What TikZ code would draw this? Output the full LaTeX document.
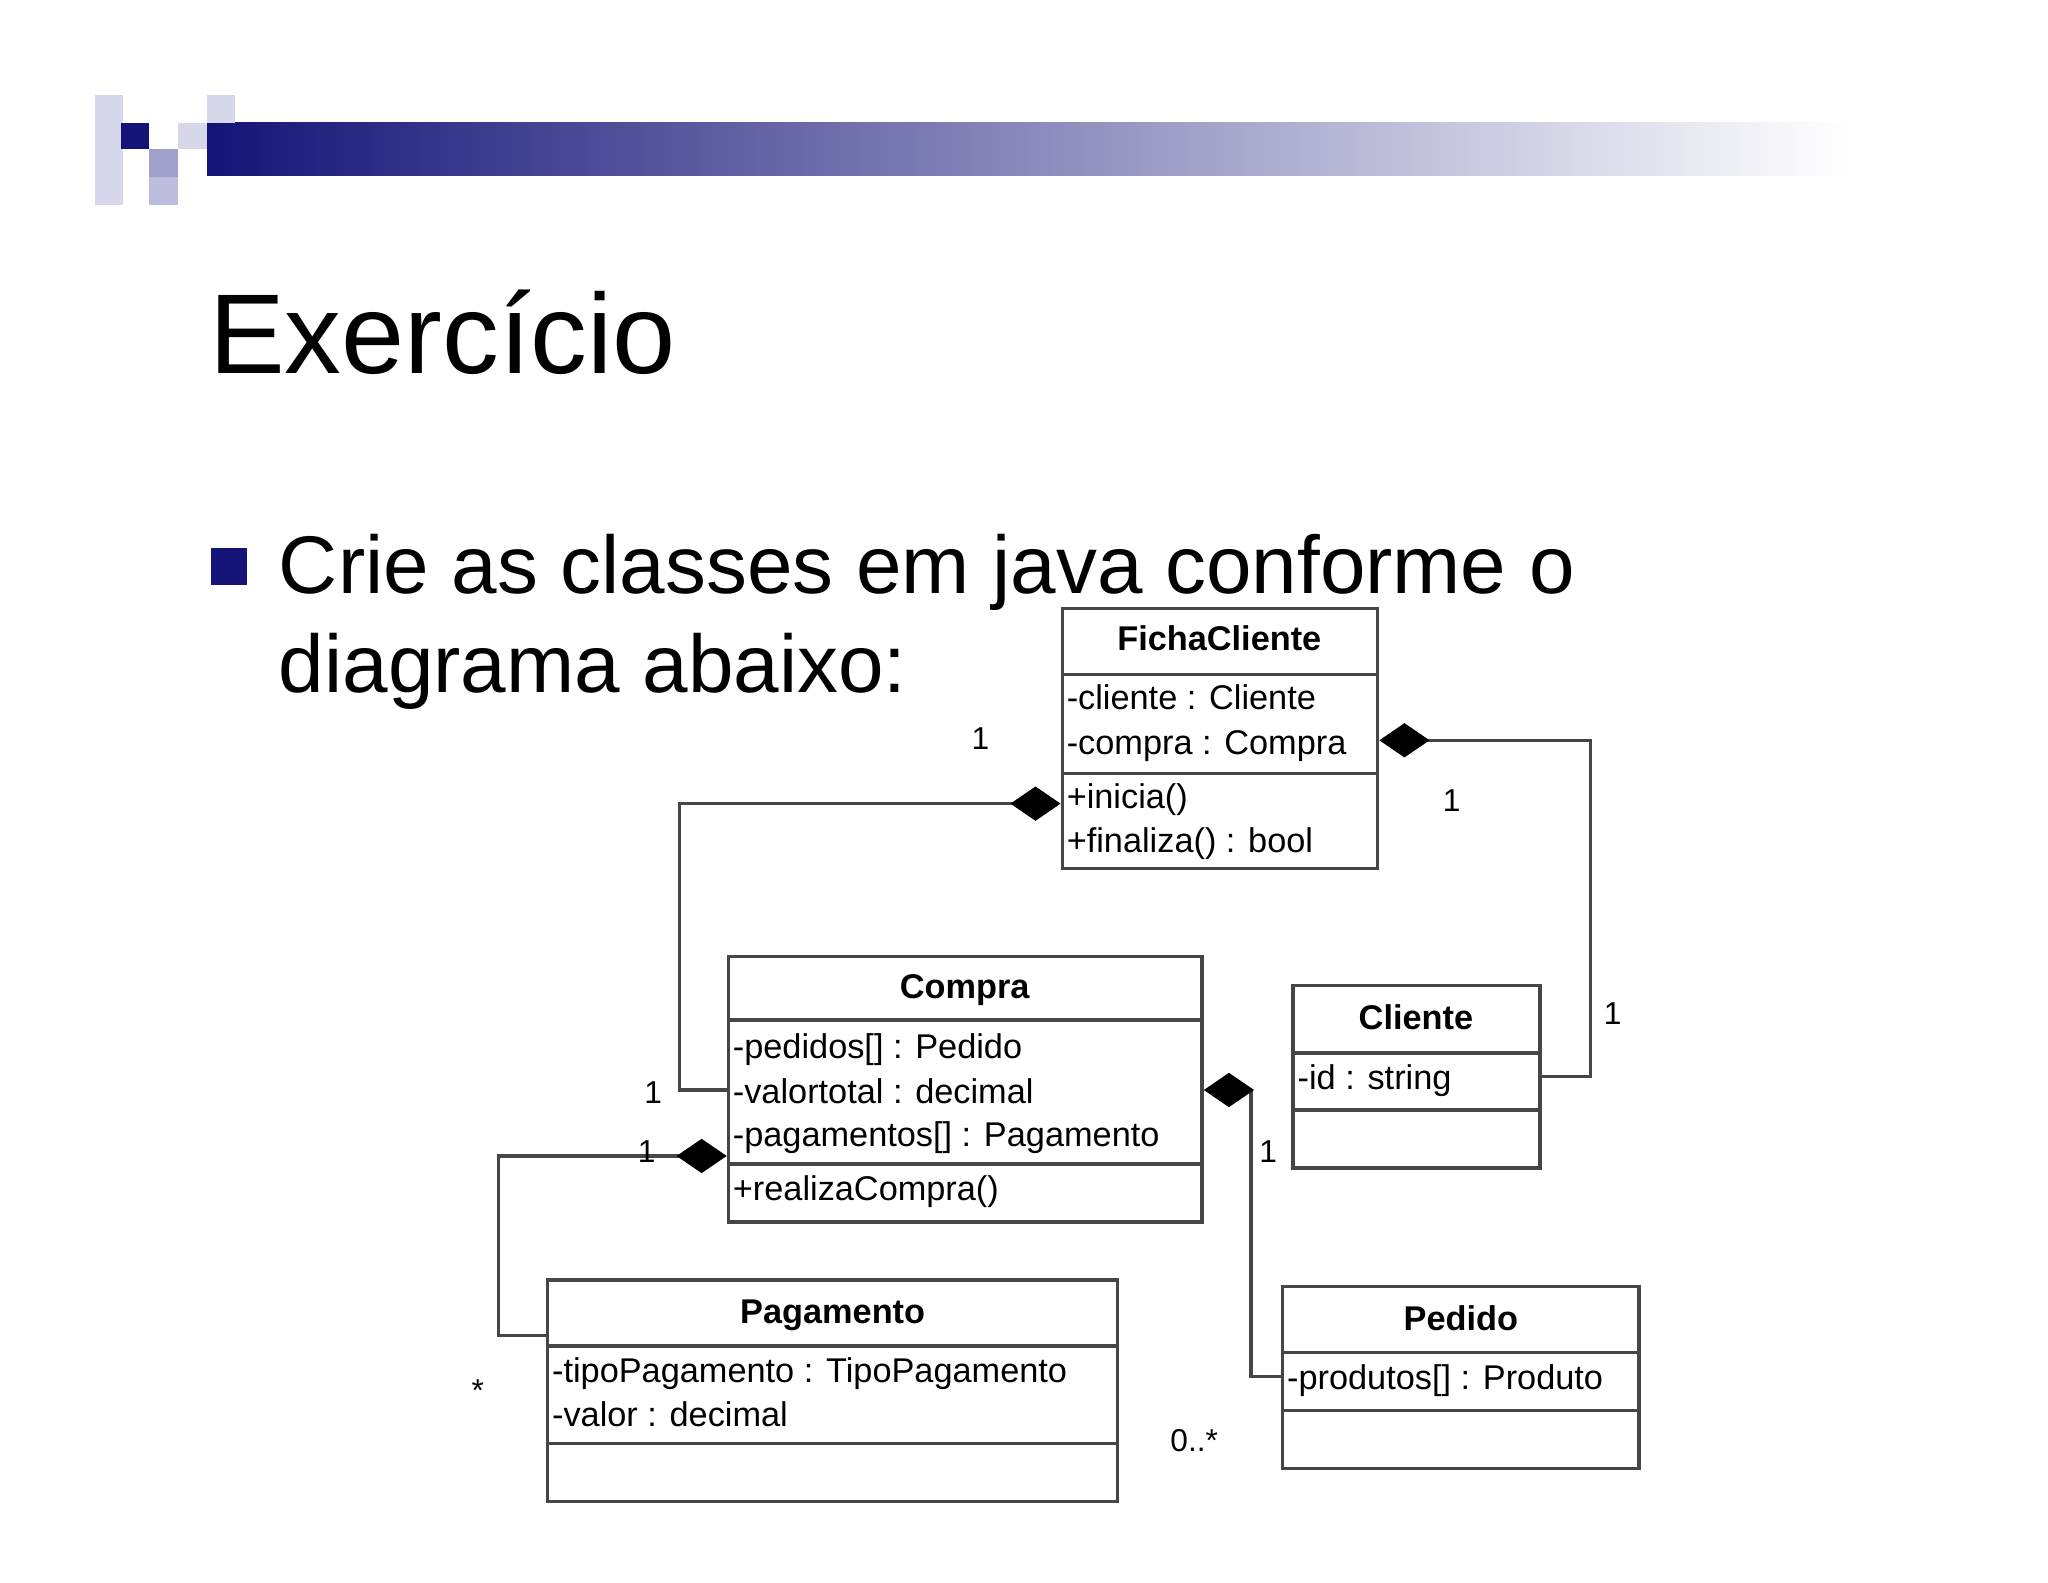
\documentclass[tikz,border=0pt]{standalone}
\usepackage{fontspec}
\setmainfont{Liberation Sans}
\usetikzlibrary{fit,arrows.meta}
\definecolor{navy}{RGB}{20,20,120}
\definecolor{lav}{RGB}{215,215,235}
\definecolor{lavm}{RGB}{160,160,205}
\definecolor{ln}{RGB}{70,70,70}
\tikzset{
  cls/.style={draw=ln,line width=1.3pt,inner sep=0pt},
  div/.style={draw=ln,line width=1.3pt},
  conn/.style={draw=ln,line width=1.2pt},
  comp/.style={conn,{Diamond[length=19pt,width=13pt,fill=black,color=black]}-},
  ut/.style={anchor=base west,inner sep=0pt,font=\fontsize{13}{15}\selectfont},
  un/.style={anchor=base,inner sep=0pt,font=\fontsize{13}{15}\selectfont\bfseries},
  lab/.style={anchor=base,inner sep=0pt,font=\fontsize{12}{14}\selectfont},
}
\begin{document}
\begin{tikzpicture}[x=0.5pt,y=-0.5pt]
\useasboundingbox[fill=white] (0,0) rectangle (1552,1199);
% header
\shade[left color=navy,right color=white] (157,93) rectangle (1400,133);
\fill[lav] (72,72) rectangle (93,155);
\fill[lav] (157,72) rectangle (178,93);
\fill[lav] (135,93) rectangle (157,113);
\fill[navy] (92,93) rectangle (113,113);
\fill[lavm] (113,113) rectangle (135,134);
\fill[lavm!70] (113,134) rectangle (135,155);
% title
\node[anchor=base west,inner sep=0pt,font=\fontsize{43}{50}\selectfont] (title) at (158,283) {Exercício};
\fill[navy] (160,415) rectangle (187,443);
\node[anchor=base west,inner sep=0pt,font=\fontsize{31}{36}\selectfont] (b1) at (211,450) {Crie as classes em java conforme o};
\node[anchor=base west,inner sep=0pt,font=\fontsize{31}{36}\selectfont] (b2) at (211,525) {diagrama abaixo:};
% FichaCliente
\node[cls,fit={(805,461) (1044,658)}] (fc) {};
\draw[div] (805,511) -- (1044,511) (805,586) -- (1044,586);
\node[un] at (924,493) {FichaCliente};
\node[ut] at (808,538) {-cliente : Cliente};
\node[ut] at (808,572) {-compra : Compra};
\node[ut] at (808,613) {+inicia()};
\node[ut] at (808,646) {+finaliza() : bool};
% Compra
\node[cls,fit={(552,725) (911,926)}] (co) {};
\draw[div] (552,773) -- (911,773) (552,882) -- (911,882);
\node[un] at (731,757) {Compra};
\node[ut] at (555,802) {-pedidos[] : Pedido};
\node[ut] at (555,836) {-valortotal : decimal};
\node[ut] at (555,869) {-pagamentos[] : Pagamento};
\node[ut] at (555,910) {+realizaCompra()};
% Cliente
\node[cls,fit={(980,747) (1167,885)}] (cl) {};
\draw[div] (980,798) -- (1167,798) (980,841) -- (1167,841);
\node[un] at (1073,780) {Cliente};
\node[ut] at (983,826) {-id : string};
% Pagamento
\node[cls,fit={(415,970) (847,1138)}] (pg) {};
\draw[div] (415,1020) -- (847,1020) (415,1094) -- (847,1094);
\node[un] at (631,1003) {Pagamento};
\node[ut] at (418,1048) {-tipoPagamento : TipoPagamento};
\node[ut] at (418,1081) {-valor : decimal};
% Pedido
\node[cls,fit={(972,975) (1242,1113)}] (pe) {};
\draw[div] (972,1025) -- (1242,1025) (972,1069) -- (1242,1069);
\node[un] at (1107,1008) {Pedido};
\node[ut] at (975,1053) {-produtos[] : Produto};
% connectors
\draw[comp] (fc.west |- 0,609) -- (515,609) -- (515,826) -- (co.west |- 0,826);
\draw[comp] (fc.east |- 0,561) -- (1205,561) -- (1205,816) -- (cl.east |- 0,816);
\draw[comp] (co.west |- 0,876) -- (378,876) -- (378,1012) -- (pg.west |- 0,1012);
\draw[comp] (co.east |- 0,826) -- (948,826) -- (948,1043) -- (pe.west |- 0,1043);
% multiplicities
\node[lab] at (743,568) {1};
\node[lab] at (495,836) {1};
\node[lab] at (1100,615) {1};
\node[lab] at (1222,776) {1};
\node[lab] at (490,881) {1};
\node[lab] at (362,1062) {*};
\node[lab] at (961,881) {1};
\node[lab] at (905,1100) {0..*};
\end{tikzpicture}
\end{document}
